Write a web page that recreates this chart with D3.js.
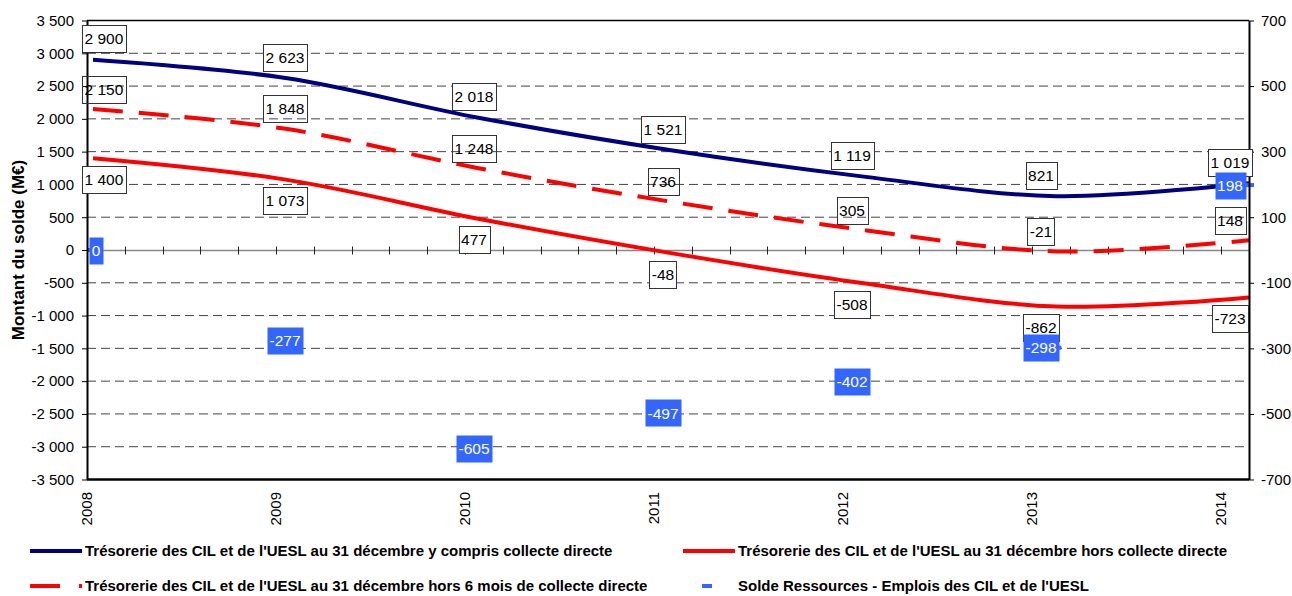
<!DOCTYPE html>
<html>
<head>
<meta charset="utf-8">
<script src="https://cdnjs.cloudflare.com/ajax/libs/d3/7.8.5/d3.min.js"></script>
<style>
    body { margin: 0; background: #fff; }
    text { font-family: "Liberation Sans", Arial, sans-serif; }
</style>
</head>
<body>
<svg id="chart" width="1292" height="596"></svg>
<script>
// data
let years = [2008, 2009, 2010, 2011, 2012, 2013, 2014];
let tresoAvecCollecte = [2900, 2623, 2018, 1521, 1119, 821, 1019];
let tresoHorsCollecte = [1400, 1073, 477, -48, -508, -862, -723];
let tresoHors6Mois = [2150, 1848, 1248, 736, 305, -21, 148];
let soldeRessEmplois = [0, -277, -605, -497, -402, -298, 198];

let leftTicks = d3.range(-3500, 3501, 500);
let rightTicks = [-700, -500, -300, -100, 100, 300, 500, 700];

let legendLabels = [
    "Trésorerie des CIL et de l'UESL au 31 décembre y compris collecte directe",
    "Trésorerie des CIL et de l'UESL au 31 décembre hors collecte directe",
    "Trésorerie des CIL et de l'UESL au 31 décembre hors 6 mois de collecte directe",
    "Solde Ressources - Emplois des CIL et de l'UESL"
];

let navy = "#000080", red = "#ff0000", blue = "#3366ff";

let svg = d3.select("#chart");

let plotLeft = 87, plotRight = 1249, plotTop = 20.5, plotBottom = 479.5;

let fr = d3.formatLocale({decimal: ",", thousands: " ", grouping: [3], currency: ["", ""], minus: "-"});
let fmt = fr.format(",d");

// axis scale (year ticks) and point scale (the points sit a bit off the ticks)
let x = d3.scaleLinear().domain([2008, 2014]).range([plotLeft, 1221]);
let xPt = d3.scaleLinear().domain([2008, 2014]).range([x(2008) + 6, plotRight]);
let xLab = d3.scaleLinear().domain([2008, 2014]).range([x(2008) + 9, x(2014) + 9]);

let y = d3.scaleLinear().domain([-3500, 3500]).range([plotBottom, plotTop]);
let y2 = d3.scaleLinear().domain([-700, 700]).range([plotBottom, plotTop]);

// gridlines
svg.append("g").selectAll("line")
    .data(leftTicks.filter(d => d !== 0 && Math.abs(d) !== 3500))
    .enter().append("line")
    .attr("x1", plotLeft).attr("x2", plotRight)
    .attr("y1", d => y(d)).attr("y2", d => y(d))
    .attr("stroke", "#444")
    .attr("stroke-width", 1)
    .attr("stroke-dasharray", "9,5");

// zero line with minor ticks
let y0 = Math.round(y(0)) + 0.5;
svg.append("line")
    .attr("x1", plotLeft).attr("x2", plotRight)
    .attr("y1", y0).attr("y2", y0)
    .attr("stroke", "#888").attr("stroke-width", 1.5);
svg.append("g").selectAll("line")
    .data(d3.range(2008.2, 2014.15, 0.2))
    .enter().append("line")
    .attr("x1", d => Math.round(x(d)) + 0.5).attr("x2", d => Math.round(x(d)) + 0.5)
    .attr("y1", y0 - 4).attr("y2", y0 + 4)
    .attr("stroke", "#222").attr("stroke-width", 1);

// lines
let pts = vals => vals.map((v, i) => [years[i], v]);
let line = d3.line()
    .x(d => xPt(d[0]))
    .y(d => y(d[1]))
    .curve(d3.curveCardinal.tension(0));

svg.append("path").datum(pts(tresoAvecCollecte))
    .attr("d", line).attr("fill", "none")
    .attr("stroke", navy).attr("stroke-width", 4);
svg.append("path").datum(pts(tresoHorsCollecte))
    .attr("d", line).attr("fill", "none")
    .attr("stroke", red).attr("stroke-width", 4);
svg.append("path").datum(pts(tresoHors6Mois))
    .attr("d", line).attr("fill", "none")
    .attr("stroke", red).attr("stroke-width", 4)
    .attr("stroke-dasharray", "30,16");

// dash markers of the secondary series
svg.append("g").selectAll("rect")
    .data(pts(soldeRessEmplois))
    .enter().append("rect")
    .attr("x", d => xPt(d[0]) - 5).attr("y", d => y2(d[1]) - 2)
    .attr("width", 10).attr("height", 4)
    .attr("fill", blue);

// plot borders / axes
let yAxis = d3.axisLeft(y).tickValues(leftTicks).tickFormat(fmt)
    .tickSizeInner(5).tickSizeOuter(0).tickPadding(8);
let gy = svg.append("g").attr("transform", "translate(" + plotLeft + ",0)").call(yAxis);
let y2Axis = d3.axisRight(y2).tickValues(rightTicks).tickFormat(fmt)
    .tickSizeInner(5).tickSizeOuter(0).tickPadding(7);
let gy2 = svg.append("g").attr("transform", "translate(" + plotRight + ",0)").call(y2Axis);
[gy, gy2].forEach(g => {
    g.select(".domain").attr("stroke", "#000").attr("stroke-width", 2);
    g.selectAll(".tick line").attr("stroke", "#000");
    g.selectAll("text").attr("font-size", 15).attr("fill", "#000")
        .style("font-family", "'Liberation Sans', Arial, sans-serif");
});
svg.append("line").attr("x1", plotLeft).attr("x2", plotRight).attr("y1", plotTop).attr("y2", plotTop)
    .attr("stroke", "#000").attr("stroke-width", 1.5);
svg.append("line").attr("x1", plotLeft).attr("x2", plotRight).attr("y1", plotBottom).attr("y2", plotBottom)
    .attr("stroke", "#000").attr("stroke-width", 2.5);

// year labels
svg.append("g").selectAll("text")
    .data(years)
    .enter().append("text")
    .attr("transform", d => "translate(" + x(d) + "," + 492 + ") rotate(-90)")
    .attr("text-anchor", "end")
    .attr("dy", "0.35em")
    .attr("font-size", 15)
    .text(d => d);

// y title
svg.append("text")
    .attr("transform", "translate(18," + ((plotTop + plotBottom) / 2) + ") rotate(-90)")
    .attr("text-anchor", "middle")
    .attr("dy", "0.35em")
    .attr("font-size", 17)
    .attr("font-weight", "bold")
    .text("Montant du solde (M€)");

// data labels
function addLabels(vals, scale, dy, fill, stroke, color) {
    let g = svg.append("g");
    vals.forEach((v, i) => {
        let cy = scale(v) + dy;
        let lab = g.append("g");
        let rect = lab.append("rect");
        let t = lab.append("text")
            .attr("font-size", 15.5)
            .attr("fill", color)
            .attr("text-anchor", "middle")
            .attr("dy", "0.36em")
            .text(fmt(v));
        let w = t.node().getComputedTextLength() + 5;
        let cx = Math.max(xLab(years[i]), 82 + w / 2);
        t.attr("x", cx).attr("y", cy);
        rect.attr("x", Math.round(cx - w / 2) + 0.5).attr("y", Math.round(cy - 13.5) + 0.5)
            .attr("width", Math.round(w)).attr("height", 27)
            .attr("fill", fill)
            .attr("stroke", stroke);
    });
}
addLabels(tresoHors6Mois, y, -20, "none", "#333", "#000");
addLabels(tresoAvecCollecte, y, -21, "#fff", "#333", "#000");
addLabels(tresoHorsCollecte, y, 21, "#fff", "#333", "#000");
addLabels(soldeRessEmplois, y2, 0, blue, "none", "#fff");

// legend
let leg = svg.append("g");
let legItems = [
    {x: 30, y: 551, text: legendLabels[0], kind: "navy"},
    {x: 683, y: 551, text: legendLabels[1], kind: "red"},
    {x: 30, y: 586, text: legendLabels[2], kind: "dash"},
    {x: 683, y: 586, text: legendLabels[3], kind: "marker"}
];
legItems.forEach(d => {
    if (d.kind === "marker") {
        leg.append("rect").attr("x", d.x + 19).attr("y", d.y - 2)
            .attr("width", 10).attr("height", 4).attr("fill", blue);
    } else {
        leg.append("line")
            .attr("x1", d.x).attr("x2", d.x + 52)
            .attr("y1", d.y).attr("y2", d.y)
            .attr("stroke", d.kind === "navy" ? navy : red)
            .attr("stroke-width", 4)
            .attr("stroke-dasharray", d.kind === "dash" ? "30,19" : null);
    }
    leg.append("text")
        .attr("x", d.x + 55).attr("y", d.y)
        .attr("dy", "0.35em")
        .attr("font-size", 15)
        .attr("font-weight", "bold")
        .text(d.text);
});
</script>
</body>
</html>
